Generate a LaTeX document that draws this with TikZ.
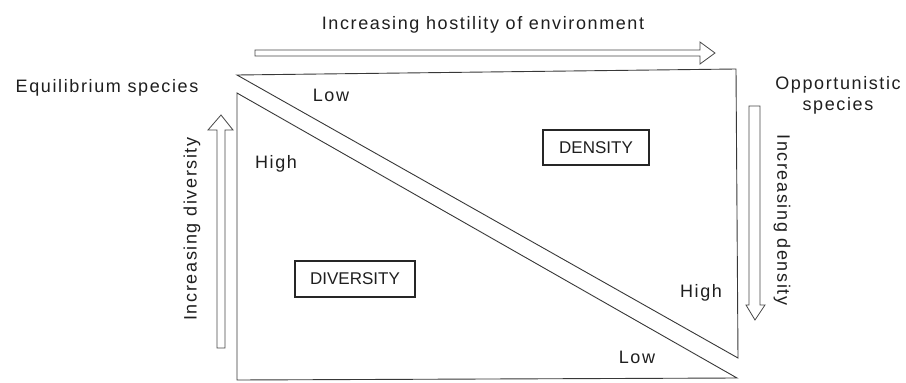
\documentclass[tikz,border=0pt]{standalone}
\usepackage{fontspec}
\setmainfont[LetterSpace=9]{Liberation Sans}
\newfontfamily\boxfont{Liberation Sans}
\begin{document}
\begin{tikzpicture}[x=1pt,y=-1pt,
  lbl/.style={font=\fontsize{18}{21}\selectfont, text=black!88, inner sep=0pt},
  boxlbl/.style={draw=black!85, line width=1.2pt, font=\boxfont\fontsize{17}{19}\selectfont, text=black!88, inner sep=0pt},
  edge/.style={draw=black!78, line width=0.9pt, line join=miter},
  hollow/.style={draw=black!72, line width=0.8pt, fill=white, line join=miter}]
\useasboundingbox[fill=white] (0,0) rectangle (906,383);

% triangles
\coordinate (dTL) at (237,75);
\coordinate (dTR) at (736,69);
\coordinate (dBR) at (738,358);
\coordinate (vTL) at (237,93);
\coordinate (vBL) at (237,380);
\coordinate (vBR) at (737,378);
\draw[edge] (dTL) -- (dTR) -- (dBR) -- cycle;
\draw[edge] (vTL) -- (vBL) -- (vBR) -- cycle;

% hollow arrows
\draw[hollow] (255,50) -- (700,50) -- (700,42) -- (715,53) -- (700,64) -- (700,56) -- (255,56) -- cycle;
\draw[hollow] (217,348) -- (217,130) -- (208,130) -- (221,115) -- (233,130) -- (225,130) -- (225,348) -- cycle;
\draw[hollow] (749,106) -- (749,305) -- (746,305) -- (755,320) -- (765,305) -- (760,305) -- (760,106) -- cycle;

% labels
\node[lbl] (hostility) at (483,25) {Increasing hostility of environment};
\node[lbl] (equil) at (107,88) {Equilibrium species};
\node[lbl, align=center] (opport) at (838,95) {Opportunistic\\species};
\node[lbl, rotate=90] (incdiv) at (192,229) {Increasing diversity};
\node[lbl, rotate=-90] (incden) at (782,220) {Increasing density};
\node[lbl] (lowT) at (331,95) {Low};
\node[lbl] (highL) at (276,164) {High};
\node[lbl] (highR) at (701,293) {High};
\node[lbl] (lowB) at (637,357) {Low};
\node[boxlbl, minimum width=106pt, minimum height=35pt] (density) at (596,147.5) {DENSITY};
\node[boxlbl, minimum width=120pt, minimum height=36pt] (diversity) at (355,279) {DIVERSITY};
\end{tikzpicture}
\end{document}
